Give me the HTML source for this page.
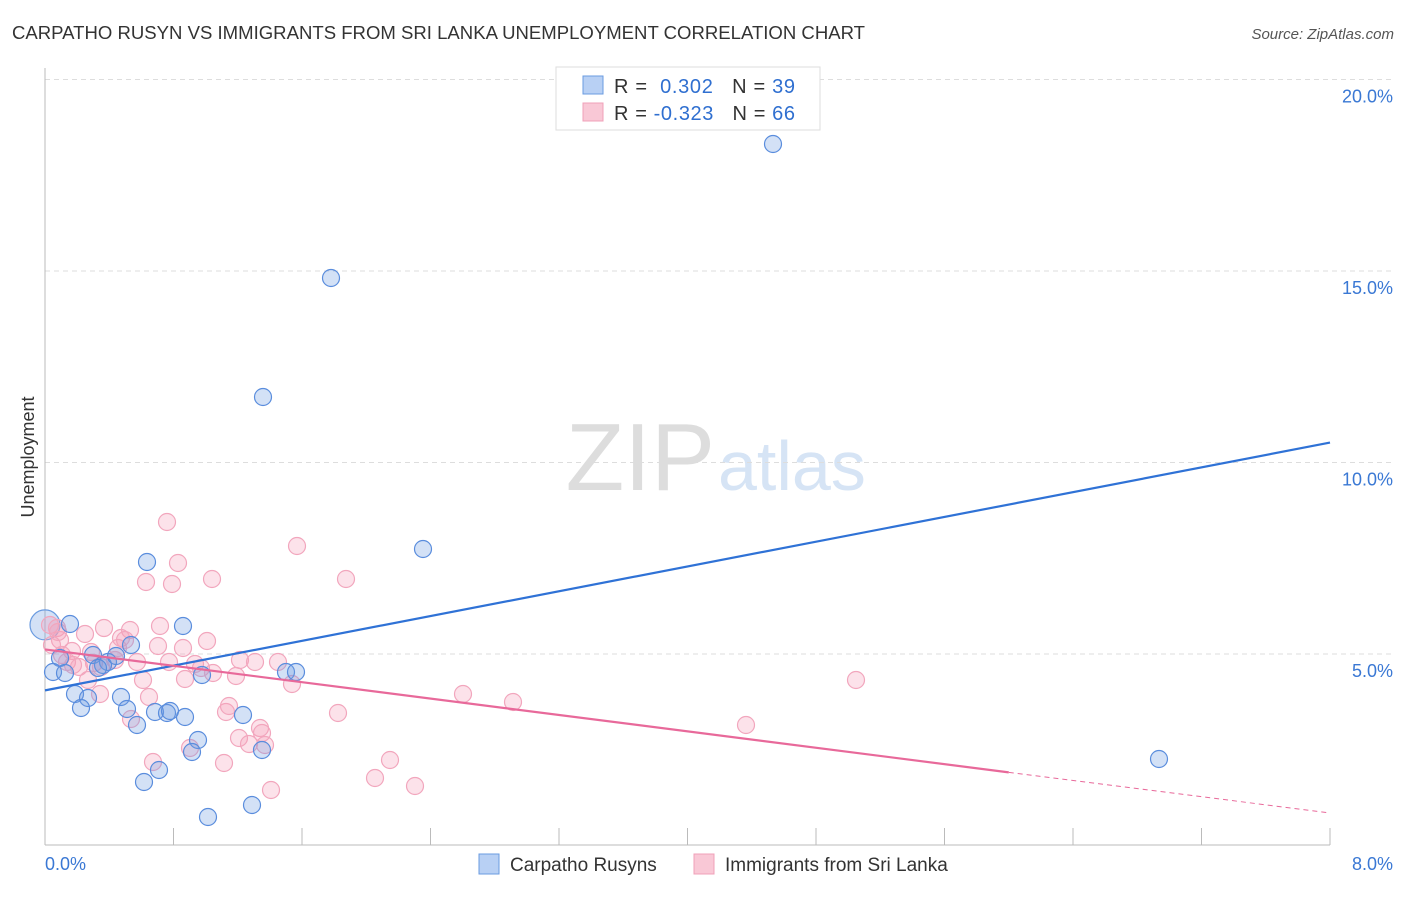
<!DOCTYPE html>
<html><head><meta charset="utf-8"><style>
body{margin:0;background:#fff;font-family:"Liberation Sans",sans-serif}
svg text{font-family:"Liberation Sans",sans-serif}
</style></head><body>
<svg id="c" width="1406" height="892">
<text x="12" y="39" font-size="18" fill="#333" textLength="853" lengthAdjust="spacingAndGlyphs">CARPATHO RUSYN VS IMMIGRANTS FROM SRI LANKA UNEMPLOYMENT CORRELATION CHART</text>
<text x="1394" y="39" font-size="15" fill="#555" font-style="italic" text-anchor="end">Source: ZipAtlas.com</text>
<text x="34" y="457" font-size="18" fill="#333" transform="rotate(-90 34 457)" text-anchor="middle">Unemployment</text>
<text x="715" y="490" font-size="96" fill="#ddd" text-anchor="end" font-family="Liberation Serif">ZIP</text>
<text x="718" y="490" font-size="70" fill="#d6e4f5">atlas</text>
<g id="grid"></g><g id="marks"></g>
<g>
<rect x="556" y="67" width="264" height="63" fill="#fff" stroke="#ddd"/>
<rect x="583" y="76" width="20" height="18" fill="#b8d0f4" stroke="#6a9be0"/>
<text x="614" y="93" font-size="20" fill="#333" textLength="181" lengthAdjust="spacing">R = <tspan fill="#2f6fd0">&#160;0.302</tspan>&#160;&#160;&#160;N = <tspan fill="#2f6fd0">39</tspan></text>
<rect x="583" y="103" width="20" height="18" fill="#f9c8d6" stroke="#f0a0b8"/>
<text x="614" y="120" font-size="20" fill="#333" textLength="181" lengthAdjust="spacing">R = <tspan fill="#2f6fd0">-0.323</tspan>&#160;&#160;&#160;N = <tspan fill="#2f6fd0">66</tspan></text>
</g>
<g>
<rect x="479" y="854" width="20" height="20" fill="#b8d0f4" stroke="#6a9be0"/>
<text x="510" y="871" font-size="19" fill="#333">Carpatho Rusyns</text>
<rect x="694" y="854" width="20" height="20" fill="#f9c8d6" stroke="#f0a0b8"/>
<text x="725" y="871" font-size="19" fill="#333">Immigrants from Sri Lanka</text>
</g>
</svg>
<script>
const yTicks=[5,10,15,20];
const xTickLabels=["0.0%","8.0%"];
const bluePts=[[773,144],[331,278],[263,397],[423,549],[147,562],[183,626],[70,624],[93,655],[108,662],[103,665],[116,656],[131,645],[60,658],[53,672],[65,673],[75,694],[88,698],[121,697],[81,708],[127,709],[137,725],[155,712],[167,713],[170,711],[185,717],[202,675],[243,715],[286,672],[296,672],[198,740],[192,752],[262,750],[159,770],[144,782],[252,805],[208,817],[1159,759],[98,668]].map(p=>[(p[0]-45)/1285*8,(845.5-p[1])/38.3]);
const pinkPts=[[167,522],[178,563],[297,546],[146,582],[172,584],[212,579],[346,579],[50,625],[57,628],[60,640],[85,634],[104,628],[130,630],[121,638],[160,626],[158,646],[183,648],[207,641],[91,652],[72,651],[62,655],[67,662],[73,665],[94,663],[118,648],[125,640],[137,662],[169,662],[195,664],[201,668],[240,660],[255,662],[278,662],[292,684],[185,679],[213,673],[236,676],[143,680],[100,694],[149,697],[101,667],[131,719],[226,712],[229,706],[239,738],[249,744],[260,728],[262,733],[265,745],[153,762],[190,748],[224,763],[338,713],[271,790],[375,778],[390,760],[415,786],[463,694],[513,702],[746,725],[856,680],[52,645],[58,632],[79,667],[115,660],[88,680]].map(p=>[(p[0]-45)/1285*8,(845.5-p[1])/38.3]);
const bigBlue=[0,5.76];
const blueTrend=[[0,4.05],[8,10.52]];
const pinkTrend=[[0,5.12],[6.0,1.91],[8,0.85]];
const X=v=>45+v/8*1285, Y=v=>845.5-v*38.3;
const NS="http://www.w3.org/2000/svg";
function mk(t,a,p){const e=document.createElementNS(NS,t);for(const k in a)e.setAttribute(k,a[k]);p.appendChild(e);return e;}
const g=document.getElementById('grid'), m=document.getElementById('marks');
yTicks.forEach(t=>{
 const l=mk('line',{x1:45,x2:1395,y1:Y(t),y2:Y(t),stroke:'#ddd','stroke-dasharray':'5,4'},g);
 
 
 const tx=mk('text',{x:1393,y:Y(t)+23,'font-size':18,fill:'#3a78d4','text-anchor':'end'},g);
 tx.textContent=t.toFixed(1)+'%';
 
 
});
mk('line',{x1:45,x2:45,y1:68,y2:845,stroke:'#bbb'},g);
mk('line',{x1:45,x2:1330,y1:845,y2:845,stroke:'#bbb'},g);
for(let i=0;i<=10;i++){const t=mk('line',{x1:X(i*0.8),x2:X(i*0.8),y1:828,y2:845,stroke:'#bbb'},g);
 
 }
const xl0=mk('text',{x:45,y:870,'font-size':18,fill:'#3a78d4'},g);xl0.textContent=xTickLabels[0];


const xl1=mk('text',{x:1393,y:870,'font-size':18,fill:'#3a78d4','text-anchor':'end'},g);xl1.textContent=xTickLabels[1];


function dot(p,r,f,s,n){const c=mk('circle',{cx:X(p[0]),cy:Y(p[1]),r:r,fill:f,stroke:s,'stroke-width':1.2},m);
 
 }
dot(bigBlue,15,'rgba(110,155,225,0.3)','#6a9be0','blue-point');
pinkPts.forEach(p=>dot(p,8.5,'rgba(245,160,185,0.3)','#f2a6bd','pink-point'));
bluePts.forEach(p=>dot(p,8.5,'rgba(110,155,225,0.3)','#5a8ddd','blue-point'));
const bl=mk('line',{x1:X(blueTrend[0][0]),y1:Y(blueTrend[0][1]),x2:X(blueTrend[1][0]),y2:Y(blueTrend[1][1]),stroke:'#2f72d6','stroke-width':2.2},m);


const pl=mk('line',{x1:X(pinkTrend[0][0]),y1:Y(pinkTrend[0][1]),x2:X(pinkTrend[1][0]),y2:Y(pinkTrend[1][1]),stroke:'#e8699a','stroke-width':2.2},m);


const pd=mk('line',{x1:X(pinkTrend[1][0]),y1:Y(pinkTrend[1][1]),x2:X(pinkTrend[2][0]),y2:Y(pinkTrend[2][1]),stroke:'#e8699a','stroke-width':1,'stroke-dasharray':'5,4'},m);


</script>
</body></html>
